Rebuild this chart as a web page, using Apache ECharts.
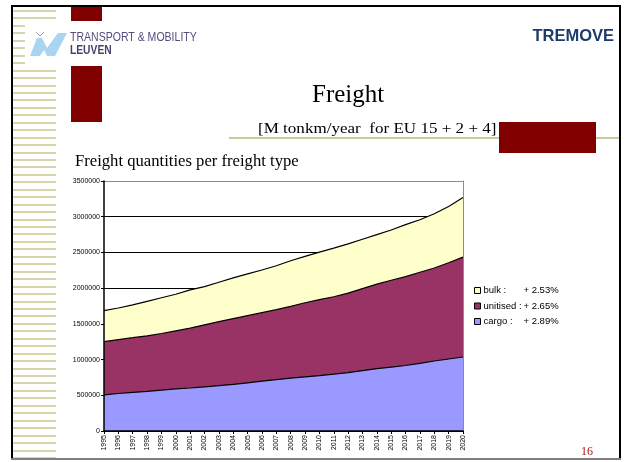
<!DOCTYPE html>
<html>
<head>
<meta charset="utf-8">
<script src="https://cdn.jsdelivr.net/npm/echarts@6/dist/echarts.min.js"></script>
<style>
  html, body { margin: 0; padding: 0; background: #fff; }
  #chart { width: 628px; height: 462px; }
</style>
</head>
<body>
<div id="chart"></div>
<script>
const years = ['1995', '1996', '1997', '1998', '1999', '2000', '2001', '2002', '2003', '2004', '2005', '2006', '2007',
  '2008', '2009', '2010', '2011', '2012', '2013', '2014', '2015', '2016', '2017', '2018', '2019', '2020']

// stacked from bottom: cargo, unitised, bulk
const cargo = [505000, 525000, 540000, 555000, 572000, 590000, 602000, 618000, 634000, 652000, 674000, 697000, 720000,
  740000, 758000, 775000, 796000, 818000, 845000, 872000, 895000, 917000, 948000, 980000, 1008000, 1036000]
const unitised = [745000, 755000, 766000, 778000, 793000, 813000, 838000, 868000, 898000, 922000, 941000, 960000, 979000,
  1004000, 1038000, 1065000, 1084000, 1113000, 1149000, 1184000, 1216000, 1244000, 1274000, 1302000, 1348000, 1399000]
const bulk = [435000, 442000, 459000, 482000, 500000, 512000, 536000, 536000, 551000, 569000, 584000, 597000, 615000,
  639000, 648000, 664000, 680000, 688000, 691000, 694000, 703000, 728000, 736000, 760000, 787000, 833000]

const growth = { bulk: '+ 2.53%', unitised: '+ 2.65%', cargo: '+ 2.89%' }

const chart = echarts.init(document.getElementById('chart'), null, { renderer: 'canvas' })

// left decorative stripes
const stripes = []
for (let y = 10; y < 458; y += 7.45) {
  stripes.push({
    type: 'rect', silent: true,
    shape: { x: 13, y: Math.round(y), width: 43, height: 2 },
    style: { fill: '#d6d6ac' }
  })
}

const serif = '"Liberation Serif", "DejaVu Serif", serif'
const sans = '"Liberation Sans", Arial, sans-serif'

const option = {
  backgroundColor: '#fff',
  animation: false,
  textStyle: { fontFamily: sans },
  graphic: [
    ...stripes,
    // logo backdrop
    { type: 'rect', silent: true, shape: { x: 25, y: 22, width: 176, height: 44 }, style: { fill: '#fff' } },
    { type: 'polygon', silent: true,
      shape: { points: [[30, 56], [37, 38], [42, 38], [47, 48], [58, 33], [67, 33], [55, 56], [47, 56], [44, 50], [40, 56]] },
      style: { fill: '#a9d5f2' } },
    { type: 'polyline', silent: true, shape: { points: [[36, 32], [40, 36], [44, 32]] },
      style: { stroke: '#9aa0b0', lineWidth: 1, fill: null } },
    { type: 'text', silent: true, x: 70, y: 31, scaleX: 0.81,
      style: { text: 'TRANSPORT & MOBILITY', fill: '#584c7c', font: '13px ' + sans } },
    { type: 'text', silent: true, x: 70, y: 44, scaleX: 0.79,
      style: { text: 'LEUVEN', fill: '#4c3f70', font: 'bold 13px ' + sans } },
    // dark red blocks
    { type: 'rect', silent: true, shape: { x: 71, y: 6, width: 31, height: 15 }, style: { fill: '#800000' } },
    { type: 'rect', silent: true, shape: { x: 71, y: 66, width: 31, height: 56 }, style: { fill: '#800000' } },
    // subtitle rule and block
    { type: 'rect', silent: true, shape: { x: 229, y: 137, width: 390, height: 2 }, style: { fill: '#c9c99b' } },
    { type: 'rect', silent: true, shape: { x: 499, y: 122, width: 97, height: 31 }, style: { fill: '#800000' } },
    // titles
    { type: 'text', silent: true, right: 14, top: 28,
      style: { text: 'TREMOVE', fill: '#1c3a6b', font: 'bold 16.5px ' + sans } },
    { type: 'text', silent: true, x: 312, y: 83,
      style: { text: 'Freight', fill: '#000', font: '25px ' + serif } },
    { type: 'text', silent: true, x: 258, y: 121, scaleX: 1.1,
      style: { text: '[M tonkm/year  for EU 15 + 2 + 4]', fill: '#000', font: '15.5px ' + serif } },
    { type: 'text', silent: true, x: 75, y: 154, scaleX: 1.04,
      style: { text: 'Freight quantities per freight type', fill: '#000', font: '16px ' + serif } },
    { type: 'text', silent: true, x: 581, y: 446,
      style: { text: '16', fill: '#a01818', font: '12px ' + serif } },
    // slide frame
    { type: 'rect', silent: true, shape: { x: 11, y: 5, width: 610, height: 2 }, style: { fill: '#000' } },
    { type: 'rect', silent: true, shape: { x: 11, y: 5, width: 2, height: 455 }, style: { fill: '#000' } },
    { type: 'rect', silent: true, shape: { x: 619, y: 5, width: 2, height: 455 }, style: { fill: '#000' } },
    { type: 'rect', silent: true, shape: { x: 11, y: 458, width: 610, height: 2 }, style: { fill: '#808080' } }
  ],
  grid: { left: 104, top: 181, width: 359, height: 250, containLabel: false },
  legend: {
    left: 474,
    top: 285,
    padding: 0,
    orient: 'vertical',
    data: ['bulk', 'unitised', 'cargo'],
    icon: 'rect',
    itemWidth: 6,
    itemHeight: 6,
    itemGap: 4.5,
    itemStyle: { borderColor: '#000', borderWidth: 1 },
    textStyle: {
      fontSize: 9.5, color: '#000', lineHeight: 11, padding: [0, 0, 0, -2],
      rich: { n: { width: 40, fontSize: 9.5, color: '#000' }, p: { fontSize: 9.5, color: '#000' } }
    },
    formatter: name => '{n|' + name + ' :}{p|' + growth[name] + '}'
  },
  xAxis: {
    type: 'category',
    data: years,
    boundaryGap: false,
    z: 10,
    axisLine: { lineStyle: { color: '#000', width: 1.5 } },
    axisTick: { show: true, interval: 0, length: 3, lineStyle: { color: '#000' } },
    axisLabel: { interval: 0, rotate: 90, fontSize: 7, color: '#000', margin: 4 },
    splitLine: { show: false }
  },
  yAxis: [
    {
      type: 'value',
      min: 0, max: 3500000, interval: 500000,
      axisLine: { show: false },
      axisTick: { show: true, length: 3, lineStyle: { color: '#000' } },
      axisLabel: { fontSize: 7, color: '#000', margin: 4, formatter: v => String(v) },
      splitLine: { lineStyle: { color: ['#000', '#000', '#000', '#000', '#000', '#000', '#000', '#8c8c8c'], width: 1 } }
    },
    {
      type: 'value', position: 'left', z: 10,
      min: 0, max: 3500000, interval: 500000,
      axisLine: { show: true, lineStyle: { color: '#000', width: 1.5 } },
      axisTick: { show: false }, axisLabel: { show: false }, splitLine: { show: false }
    },
    {
      type: 'value', position: 'right', z: 10,
      min: 0, max: 3500000, interval: 500000,
      axisLine: { show: true, lineStyle: { color: '#8c8c8c', width: 1 } },
      axisTick: { show: false }, axisLabel: { show: false }, splitLine: { show: false }
    }
  ],
  series: [
    {
      name: 'cargo', type: 'line', stack: 'total', data: cargo,
      showSymbol: false, symbol: 'none',
      lineStyle: { color: '#000', width: 1.2 },
      areaStyle: { color: '#9999ff', opacity: 1 },
      itemStyle: { color: '#9999ff' }
    },
    {
      name: 'unitised', type: 'line', stack: 'total', data: unitised,
      showSymbol: false, symbol: 'none',
      lineStyle: { color: '#000', width: 1.2 },
      areaStyle: { color: '#993366', opacity: 1 },
      itemStyle: { color: '#993366' }
    },
    {
      name: 'bulk', type: 'line', stack: 'total', data: bulk,
      showSymbol: false, symbol: 'none',
      lineStyle: { color: '#000', width: 1.2 },
      areaStyle: { color: '#ffffcc', opacity: 1 },
      itemStyle: { color: '#ffffcc' }
    }
  ]
}

chart.setOption(option)
</script>
</body>
</html>
